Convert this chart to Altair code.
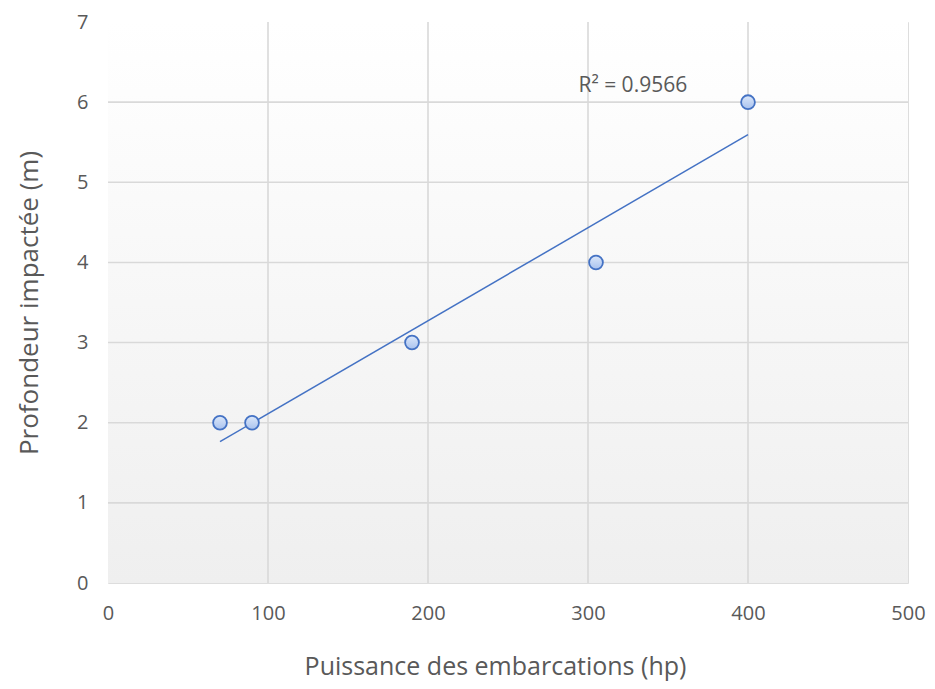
import altair as alt
import pandas as pd

puissance = [70, 90, 190, 305, 400]
profondeur = [2, 2, 3, 4, 6]
r2_label = ["R² = 0.9566"]
r2_x = [328]
r2_y = [6.2]
x_ticks = [0, 100, 200, 300, 400, 500]
y_ticks = [0, 1, 2, 3, 4, 5, 6, 7]

df = pd.DataFrame({"x": puissance, "y": profondeur})
lab = pd.DataFrame({"x": r2_x, "y": r2_y, "t": r2_label})
bg = pd.DataFrame({"a": [0]})
xg = pd.DataFrame({"x": x_ticks[1:-1]})
yg = pd.DataFrame({"y": y_ticks[1:-1]})

FONT = "Open Sans"
GRAY = "#595959"
GRID = "#d9d9d9"
W, H = 800, 561

xscale = alt.Scale(domain=[0, 500], nice=False, zero=True)
yscale = alt.Scale(domain=[0, 7], nice=False)

xax = alt.Axis(values=x_ticks, title="Puissance des embarcations (hp)", format="d",
               labelFontSize=20, titleFontSize=25, labelPadding=20, titlePadding=31,
               labelFlush=False, titleX=387,
               titleFontWeight="normal", labelColor=GRAY, titleColor=GRAY, labelFont=FONT, titleFont=FONT,
               domain=False, ticks=False, grid=False)
yax = alt.Axis(values=y_ticks, title="Profondeur impactée (m)", format="d",
               labelFontSize=20, titleFontSize=26, labelPadding=20, titlePadding=34,
               labelFlush=False,
               titleFontWeight="normal", labelColor=GRAY, titleColor=GRAY, labelFont=FONT, titleFont=FONT,
               domain=False, ticks=False, grid=False)

background = alt.Chart(bg).mark_rect(
    fill=alt.Gradient(gradient="linear", x1=0, y1=0, x2=0, y2=1,
                      stops=[alt.GradientStop(color="#ffffff", offset=0),
                             alt.GradientStop(color="#efefef", offset=1)]),
).encode(x=alt.value(0), x2=alt.value(W), y=alt.value(0), y2=alt.value(H))

xgrid = alt.Chart(xg).mark_rule(color=GRID, strokeWidth=1.6).encode(
    x=alt.X("x:Q", scale=xscale), y=alt.value(0), y2=alt.value(H))
ygrid = alt.Chart(yg).mark_rule(color=GRID, strokeWidth=1.6).encode(
    y=alt.Y("y:Q", scale=yscale), x=alt.value(0), x2=alt.value(W))

base = alt.Chart(df)

line = base.transform_regression("x", "y").mark_line(color="#4472c4", strokeWidth=1.5).encode(
    x=alt.X("x:Q", scale=xscale, axis=xax),
    y=alt.Y("y:Q", scale=yscale, axis=yax),
)

points = base.mark_point(
    filled=True, size=190, opacity=1, strokeWidth=1.8, stroke="#4472c4",
    fill=alt.Gradient(gradient="linear", x1=0, y1=0, x2=0, y2=1,
                      stops=[alt.GradientStop(color="#dce8fa", offset=0),
                             alt.GradientStop(color="#a9c2ee", offset=1)]),
    shape="circle",
).encode(x=alt.X("x:Q", scale=xscale), y=alt.Y("y:Q", scale=yscale))

text = alt.Chart(lab).mark_text(fontSize=21, color=GRAY, font=FONT).encode(
    x=alt.X("x:Q", scale=xscale), y=alt.Y("y:Q", scale=yscale), text="t:N")

chart = alt.layer(background, xgrid, ygrid, line, points, text).properties(
    width=W, height=H,
    autosize=alt.AutoSizeParams(type="none"),
    padding={"left": 100, "top": 14, "right": 19, "bottom": 98},
).configure_view(
    stroke="#d0d0d0", strokeWidth=1.5,
).configure(background="white")

chart.save("out.html", embed_options={"renderer": "svg", "actions": False})
